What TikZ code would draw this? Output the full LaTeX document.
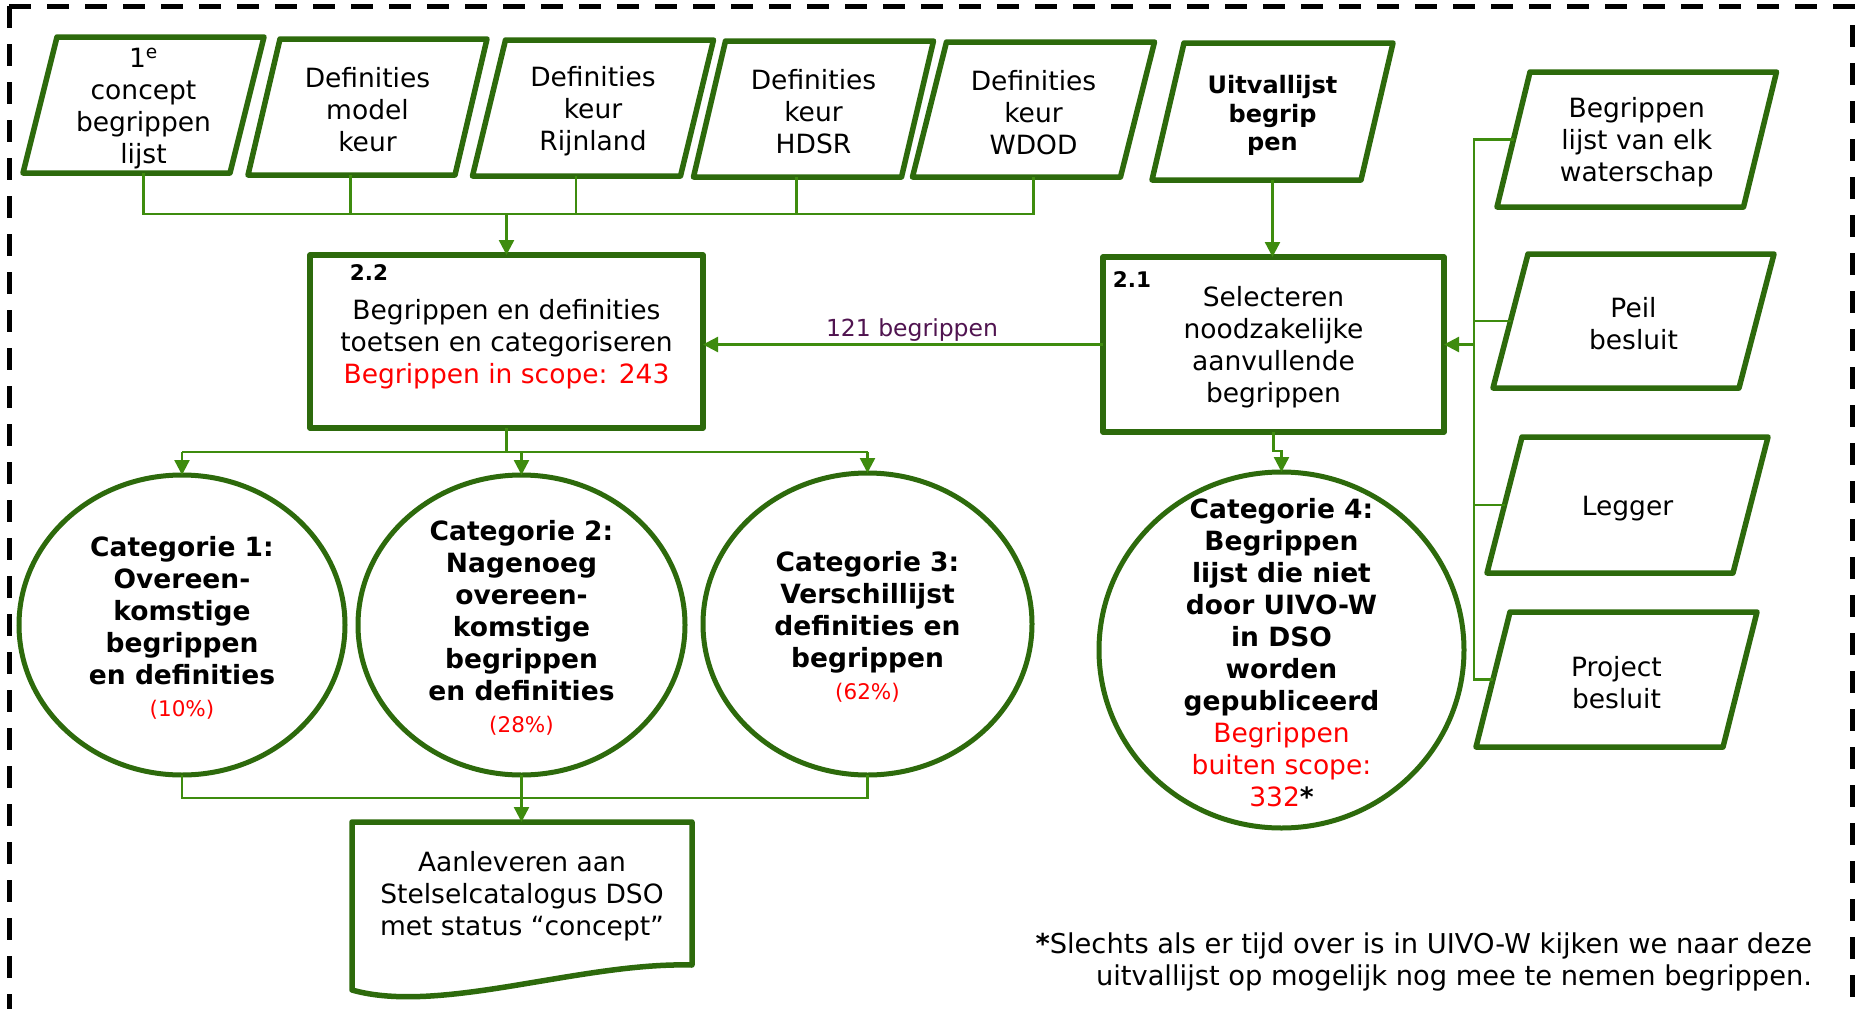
\documentclass[tikz,border=0pt]{standalone}
\usepackage{fontspec}
\setmainfont{DejaVu Sans}
\usetikzlibrary{arrows.meta,shapes.geometric,calc}
\definecolor{bordergreen}{RGB}{45,106,12}
\definecolor{conngreen}{RGB}{62,140,14}
\definecolor{labpurple}{RGB}{80,20,80}
\newcommand\redsmall[1]{{\color{red}\fontsize{21.5}{32}\selectfont\mdseries #1}}
\newcommand\rednormal[1]{{\color{red}\mdseries #1}}
\newcommand\ts{\rule{0pt}{26pt}}
% [style] name, x, y, width, height, half-slant, text
\newcommand\parabox[8][]{%
  \node[txt,#1,minimum width=#5pt,minimum height=#6pt] (#2) at (#3,#4) {\ts#8};
  \draw[shapeline] ($(#2.north west)+(#7,0)$) -- ($(#2.north east)+(#7,0)$)
    -- ($(#2.south east)+(-#7,0)$) -- ($(#2.south west)+(-#7,0)$) -- cycle;
}
\begin{document}
\begin{tikzpicture}[x=1pt,y=-1pt,
  shapeline/.style={draw=bordergreen, line width=5.5pt, line join=round},
  conn/.style={draw=conngreen, line width=2.4pt},
  arrowconn/.style={conn, -{Triangle[length=15pt,width=15pt]}},
  txt/.style={inner sep=0pt, outer sep=0pt, align=center, font=\fontsize{26.5}{32}\selectfont},
  boldtxt/.style={txt, font=\fontsize{26.5}{32}\selectfont\bfseries},
  catell/.style={boldtxt, ellipse, draw=bordergreen, line width=5pt, inner sep=-20pt},
  procbox/.style={txt, rectangle, draw=bordergreen, line width=5.5pt, line join=round},
  steplabel/.style={inner sep=0pt, font=\fontsize{21.5}{26}\selectfont\bfseries},
  border/.style={line width=5pt, dash pattern=on 22pt off 16pt}
]
\useasboundingbox (0,0) rectangle (1861,1009);
\fill[white] (0,0) rectangle (1861,1009);

% dashed frame
\draw[border] (9,6) -- (1852,6) -- (1852,1040);
\draw[border] (9,6) -- (9,1040);

% top inputs
\parabox{b1}{143.5}{105}{207}{136}{17}{1\textsuperscript{e}\\concept\\begrippen\\lijst}
\parabox{b2}{367.5}{107}{207}{136}{16}{Definities\\model\\keur}
\parabox{b3}{593}{108}{208}{136}{16.5}{Definities\\keur\\Rijnland}
\parabox{b4}{813.5}{109}{208}{136}{16}{Definities\\keur\\HDSR}
\parabox{b5}{1033.5}{109.5}{208}{135}{17}{Definities\\keur\\WDOD}
\parabox[font=\fontsize{24}{28.5}\selectfont\bfseries]{b6}{1272.5}{111.5}{209}{137}{16}{Uitvallijst\\begrip\\pen}

% right inputs
\parabox{r1}{1636.75}{139.5}{246.5}{135}{16.5}{Begrippen\\lijst van elk\\waterschap}
\parabox{r2}{1633.5}{321}{246}{134}{17.5}{Peil\\besluit}
\parabox{r3}{1627.5}{505}{246}{136}{17.5}{Legger}
\parabox{r4}{1616.5}{679.5}{247}{135}{17}{Project\\besluit}

% process boxes
\node[procbox, minimum width=393pt, minimum height=173pt] (b22) at (506.5,341.5)
  {\ts Begrippen en definities\\toetsen en categoriseren\\{\color{red}Begrippen in scope: 243}};
\node[steplabel] (lab22) at (369,273) {2.2};
\node[procbox, minimum width=341pt, minimum height=175pt] (b21) at (1273.5,344.5)
  {\ts Selecteren\\noodzakelijke\\aanvullende\\begrippen};
\node[steplabel] (lab21) at (1132,280) {2.1};

% categories
\node[catell, minimum width=326pt, minimum height=300pt] (cat1) at (182,625)
  {\ts Categorie 1:\\Overeen-\\komstige\\begrippen\\en definities\\\redsmall{(10\%)}};
\node[catell, minimum width=327pt, minimum height=300pt] (cat2) at (521.5,625)
  {\ts Categorie 2:\\Nagenoeg\\overeen-\\komstige\\begrippen\\en definities\\\redsmall{(28\%)}};
\node[catell, minimum width=329pt, minimum height=302pt] (cat3) at (867.5,624)
  {\ts Categorie 3:\\Verschillijst\\definities en\\begrippen\\\redsmall{(62\%)}};
\node[catell, inner sep=-34pt, minimum width=365pt, minimum height=356pt] (cat4) at (1281.5,650)
  {\ts Categorie 4:\\Begrippen\\lijst die niet\\door UIVO-W\\in DSO\\worden\\gepubliceerd\\\rednormal{Begrippen}\\\rednormal{buiten scope:}\\\rednormal{332}*};

% document
\node[txt, minimum width=340pt, minimum height=143pt] (doc) at (522,893.5)
  {\ts Aanleveren aan\\Stelselcatalogus DSO\\met status “concept”};
\draw[shapeline] (doc.south east) -- (doc.north east) -- (doc.north west)
  -- ($(doc.south west)+(0,25)$)
  .. controls ($(doc.south west)+(88,50)$) and ($(doc.south east)+(-112,-3)$) .. (doc.south east) -- cycle;

% footnote
\node[txt, align=right, anchor=east, font=\fontsize{27.3}{32}\selectfont] (note) at (1812,962)
  {\textbf{*}Slechts als er tijd over is in UIVO-W kijken we naar deze\\uitvallijst op mogelijk nog mee te nemen begrippen.};

% connectors: top inputs -> 2.2
\coordinate (topbus) at (0,214);
\draw[conn] (b1.south) |- (b5.south |- topbus) -- (b5.south);
\foreach \n in {b2,b3,b4}
  \draw[conn] ($(\n.south)+(-17,0)$) -- ($(\n.south |- topbus)+(-17,0)$);
\draw[arrowconn] (b22.north |- topbus) -- (b22.north);

% uitvallijst -> 2.1
\draw[arrowconn] (b6.south) -- (b6.south |- b21.north);

% 2.1 -> 2.2
\draw[arrowconn] (b21.west) -- (b22.east |- b21.west);
\node[inner sep=0pt, font=\fontsize{23.5}{28}\selectfont, text=labpurple] (lab121) at (912,330) {121 begrippen};

% 2.1 -> cat4
\draw[arrowconn] (b21.south) -- ++(0,19) -| (cat4.north);

% right inputs -> 2.1
\coordinate (bus) at (1474,0);
\draw[conn] (r1.west) -- (r1.west -| bus) -- (r4.west -| bus) -- (r4.west);
\draw[conn] (r2.west) -- (r2.west -| bus);
\draw[conn] (r3.west) -- (r3.west -| bus);
\draw[arrowconn] (b21.east -| bus) -- (b21.east);

% 2.2 -> categories
\draw[conn] (b22.south) -- ++(0,24) coordinate (split);
\draw[conn] (cat1.north |- split) -- (cat3.north |- split);
\foreach \c in {cat1,cat2,cat3}
  \draw[arrowconn] (\c.north |- split) -- (\c.north);

% categories -> document
\coordinate (join) at (0,798);
\draw[conn] (cat1.south) -- (cat1.south |- join) -- (cat3.south |- join) -- (cat3.south);
\draw[arrowconn] (cat2.south) -- (cat2.south |- doc.north);
\end{tikzpicture}
\end{document}
